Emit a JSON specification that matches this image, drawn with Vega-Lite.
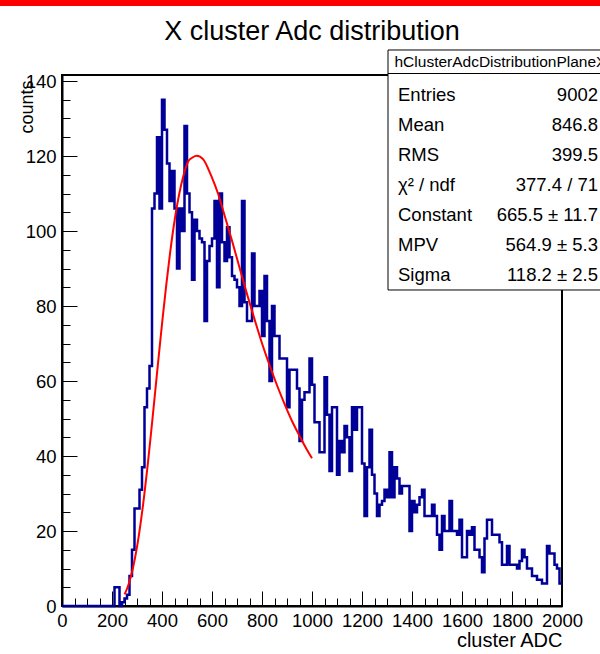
{
  "$schema": "https://vega.github.io/schema/vega-lite/v6.json",
  "width": 500,
  "height": 531,
  "autosize": {"type": "none"},
  "padding": {"left": 62, "top": 75, "right": 38, "bottom": 48},
  "background": "white",
  "config": {
    "font": "Liberation Sans",
    "view": {"stroke": "#000", "strokeWidth": 2},
    "axis": {"grid": false}
  },
  "datasets": {
    "hist": [
      {"adc": 0, "counts": 0}, {"adc": 10, "counts": 0}, {"adc": 20, "counts": 0}, {"adc": 30, "counts": 0},
      {"adc": 40, "counts": 0}, {"adc": 50, "counts": 0}, {"adc": 60, "counts": 0}, {"adc": 70, "counts": 0},
      {"adc": 80, "counts": 0}, {"adc": 90, "counts": 0}, {"adc": 100, "counts": 0}, {"adc": 110, "counts": 0},
      {"adc": 120, "counts": 0}, {"adc": 130, "counts": 0}, {"adc": 140, "counts": 0}, {"adc": 150, "counts": 0},
      {"adc": 160, "counts": 0}, {"adc": 170, "counts": 0}, {"adc": 180, "counts": 0}, {"adc": 190, "counts": 0},
      {"adc": 200, "counts": 0}, {"adc": 210, "counts": 5}, {"adc": 220, "counts": 5}, {"adc": 230, "counts": 0},
      {"adc": 240, "counts": 1}, {"adc": 250, "counts": 2}, {"adc": 260, "counts": 3}, {"adc": 270, "counts": 8},
      {"adc": 280, "counts": 15}, {"adc": 290, "counts": 26}, {"adc": 300, "counts": 26}, {"adc": 310, "counts": 31},
      {"adc": 320, "counts": 37}, {"adc": 330, "counts": 53}, {"adc": 340, "counts": 58}, {"adc": 350, "counts": 64},
      {"adc": 360, "counts": 106}, {"adc": 370, "counts": 110}, {"adc": 380, "counts": 125}, {"adc": 390, "counts": 106},
      {"adc": 400, "counts": 135}, {"adc": 410, "counts": 127}, {"adc": 420, "counts": 118}, {"adc": 430, "counts": 108},
      {"adc": 440, "counts": 116}, {"adc": 450, "counts": 106}, {"adc": 460, "counts": 90}, {"adc": 470, "counts": 106},
      {"adc": 480, "counts": 100}, {"adc": 490, "counts": 128}, {"adc": 500, "counts": 110}, {"adc": 510, "counts": 105},
      {"adc": 520, "counts": 87}, {"adc": 530, "counts": 103}, {"adc": 540, "counts": 100}, {"adc": 550, "counts": 98},
      {"adc": 560, "counts": 97}, {"adc": 570, "counts": 76}, {"adc": 580, "counts": 92}, {"adc": 590, "counts": 96},
      {"adc": 600, "counts": 98}, {"adc": 610, "counts": 108}, {"adc": 620, "counts": 85}, {"adc": 630, "counts": 110},
      {"adc": 640, "counts": 97}, {"adc": 650, "counts": 92}, {"adc": 660, "counts": 101}, {"adc": 670, "counts": 93},
      {"adc": 680, "counts": 88}, {"adc": 690, "counts": 87}, {"adc": 700, "counts": 85}, {"adc": 710, "counts": 80},
      {"adc": 720, "counts": 108}, {"adc": 730, "counts": 81}, {"adc": 740, "counts": 76}, {"adc": 750, "counts": 76},
      {"adc": 760, "counts": 94}, {"adc": 770, "counts": 80}, {"adc": 780, "counts": 80}, {"adc": 790, "counts": 84},
      {"adc": 800, "counts": 72}, {"adc": 810, "counts": 88}, {"adc": 820, "counts": 76}, {"adc": 830, "counts": 60},
      {"adc": 840, "counts": 80}, {"adc": 850, "counts": 72}, {"adc": 860, "counts": 72}, {"adc": 870, "counts": 66},
      {"adc": 880, "counts": 66}, {"adc": 890, "counts": 66}, {"adc": 900, "counts": 53}, {"adc": 910, "counts": 63},
      {"adc": 920, "counts": 63}, {"adc": 930, "counts": 63}, {"adc": 940, "counts": 58}, {"adc": 950, "counts": 44},
      {"adc": 960, "counts": 55}, {"adc": 970, "counts": 57}, {"adc": 980, "counts": 57}, {"adc": 990, "counts": 66},
      {"adc": 1000, "counts": 59}, {"adc": 1010, "counts": 49}, {"adc": 1020, "counts": 49}, {"adc": 1030, "counts": 41},
      {"adc": 1040, "counts": 41}, {"adc": 1050, "counts": 61}, {"adc": 1060, "counts": 51}, {"adc": 1070, "counts": 36},
      {"adc": 1080, "counts": 53}, {"adc": 1090, "counts": 53}, {"adc": 1100, "counts": 35}, {"adc": 1110, "counts": 44},
      {"adc": 1120, "counts": 41}, {"adc": 1130, "counts": 48}, {"adc": 1140, "counts": 45}, {"adc": 1150, "counts": 36},
      {"adc": 1160, "counts": 53}, {"adc": 1170, "counts": 47}, {"adc": 1180, "counts": 53}, {"adc": 1190, "counts": 53},
      {"adc": 1200, "counts": 38}, {"adc": 1210, "counts": 24}, {"adc": 1220, "counts": 37}, {"adc": 1230, "counts": 47},
      {"adc": 1240, "counts": 35}, {"adc": 1250, "counts": 30}, {"adc": 1260, "counts": 24}, {"adc": 1270, "counts": 27},
      {"adc": 1280, "counts": 28}, {"adc": 1290, "counts": 31}, {"adc": 1300, "counts": 29}, {"adc": 1310, "counts": 41},
      {"adc": 1320, "counts": 29}, {"adc": 1330, "counts": 37}, {"adc": 1340, "counts": 34}, {"adc": 1350, "counts": 30},
      {"adc": 1360, "counts": 32}, {"adc": 1370, "counts": 32}, {"adc": 1380, "counts": 32}, {"adc": 1390, "counts": 20},
      {"adc": 1400, "counts": 28}, {"adc": 1410, "counts": 25}, {"adc": 1420, "counts": 27}, {"adc": 1430, "counts": 29},
      {"adc": 1440, "counts": 31}, {"adc": 1450, "counts": 24}, {"adc": 1460, "counts": 24}, {"adc": 1470, "counts": 24},
      {"adc": 1480, "counts": 27}, {"adc": 1490, "counts": 24}, {"adc": 1500, "counts": 19}, {"adc": 1510, "counts": 15},
      {"adc": 1520, "counts": 24}, {"adc": 1530, "counts": 20}, {"adc": 1540, "counts": 20}, {"adc": 1550, "counts": 28},
      {"adc": 1560, "counts": 20}, {"adc": 1570, "counts": 20}, {"adc": 1580, "counts": 19}, {"adc": 1590, "counts": 23},
      {"adc": 1600, "counts": 13}, {"adc": 1610, "counts": 13}, {"adc": 1620, "counts": 20}, {"adc": 1630, "counts": 19},
      {"adc": 1640, "counts": 21}, {"adc": 1650, "counts": 15}, {"adc": 1660, "counts": 15}, {"adc": 1670, "counts": 13},
      {"adc": 1680, "counts": 9}, {"adc": 1690, "counts": 18}, {"adc": 1700, "counts": 23}, {"adc": 1710, "counts": 23},
      {"adc": 1720, "counts": 19}, {"adc": 1730, "counts": 19}, {"adc": 1740, "counts": 19}, {"adc": 1750, "counts": 17},
      {"adc": 1760, "counts": 11}, {"adc": 1770, "counts": 11}, {"adc": 1780, "counts": 16}, {"adc": 1790, "counts": 11},
      {"adc": 1800, "counts": 11}, {"adc": 1810, "counts": 11}, {"adc": 1820, "counts": 10}, {"adc": 1830, "counts": 12},
      {"adc": 1840, "counts": 15}, {"adc": 1850, "counts": 13}, {"adc": 1860, "counts": 10}, {"adc": 1870, "counts": 10},
      {"adc": 1880, "counts": 8}, {"adc": 1890, "counts": 8}, {"adc": 1900, "counts": 7}, {"adc": 1910, "counts": 7},
      {"adc": 1920, "counts": 6}, {"adc": 1930, "counts": 6}, {"adc": 1940, "counts": 16}, {"adc": 1950, "counts": 14},
      {"adc": 1960, "counts": 14}, {"adc": 1970, "counts": 11}, {"adc": 1980, "counts": 10}, {"adc": 1990, "counts": 6},
      {"adc": 2000, "counts": 6}
    ],
    "fit": [
      {"adc": 250, "fit": 3.1}, {"adc": 260, "fit": 4.6}, {"adc": 269.4, "fit": 6.4}, {"adc": 284, "fit": 10.2},
      {"adc": 298.9, "fit": 15.3}, {"adc": 328.5, "fit": 29.3}, {"adc": 343.3, "fit": 37.9}, {"adc": 358.1, "fit": 47.4},
      {"adc": 372.8, "fit": 57.2}, {"adc": 387.6, "fit": 67.1}, {"adc": 402.4, "fit": 76.7}, {"adc": 417.2, "fit": 85.7},
      {"adc": 431.9, "fit": 93.9}, {"adc": 446.7, "fit": 101.2}, {"adc": 461.5, "fit": 107.3}, {"adc": 476.3, "fit": 112.2},
      {"adc": 491, "fit": 116.0}, {"adc": 505.8, "fit": 118.7}, {"adc": 522, "fit": 119.6}, {"adc": 538.6, "fit": 120.1},
      {"adc": 564.9, "fit": 119.1}, {"adc": 594.5, "fit": 115.1}, {"adc": 624, "fit": 110.0}, {"adc": 653.6, "fit": 103.4},
      {"adc": 683.1, "fit": 96.7}, {"adc": 712.7, "fit": 89.6}, {"adc": 742.2, "fit": 82.7}, {"adc": 771.8, "fit": 76.1},
      {"adc": 801.3, "fit": 69.8}, {"adc": 830.9, "fit": 64.1}, {"adc": 860.4, "fit": 58.8}, {"adc": 890, "fit": 53.9},
      {"adc": 919.5, "fit": 49.4}, {"adc": 949.1, "fit": 45.5}, {"adc": 978.6, "fit": 41.8}, {"adc": 1000, "fit": 39.4}
    ],
    "stats": [
      {"stat": "Entries", "value": "9002"},
      {"stat": "Mean", "value": "846.8"},
      {"stat": "RMS", "value": "399.5"},
      {"stat": "χ² / ndf", "value": "377.4 / 71"},
      {"stat": "Constant", "value": "665.5 ± 11.7"},
      {"stat": "MPV", "value": "564.9 ± 5.3"},
      {"stat": "Sigma", "value": "118.2 ± 2.5"}
    ]
  },
  "layer": [
    {
      "layer": [
        {
          "data": {"name": "hist"},
          "mark": {"type": "line", "interpolate": "step-after", "color": "#000099", "strokeWidth": 2.5, "strokeCap": "butt"},
          "encoding": {
            "x": {
              "field": "adc", "type": "quantitative",
              "scale": {"domain": [0, 2000], "nice": false, "zero": false},
              "axis": {
                "orient": "bottom",
                "values": [0, 200, 400, 600, 800, 1000, 1200, 1400, 1600, 1800, 2000],
                "format": "d",
                "tickSize": -15, "tickWidth": 1, "tickColor": "#000",
                "domainColor": "#000", "domainWidth": 2,
                "labelFont": "Liberation Sans", "labelFontSize": 18.5, "labelColor": "#000",
                "labelPadding": 20, "labelFlush": false, "labelOverlap": false,
                "title": "cluster ADC", "titleFont": "Liberation Sans", "titleFontSize": 20,
                "titleFontWeight": "normal", "titleColor": "#000",
                "titleX": 500, "titleY": 40, "titleAlign": "right", "titleBaseline": "alphabetic"
              }
            },
            "y": {
              "field": "counts", "type": "quantitative",
              "scale": {"domain": [0, 141.6], "nice": false},
              "axis": {
                "orient": "left",
                "values": [0, 20, 40, 60, 80, 100, 120, 140],
                "format": "d",
                "tickSize": -15, "tickWidth": 1, "tickColor": "#000",
                "domainColor": "#000", "domainWidth": 2,
                "labelFont": "Liberation Sans", "labelFontSize": 18.5, "labelColor": "#000",
                "labelPadding": 21, "labelFlush": false, "labelOverlap": false,
                "title": "counts", "titleFont": "Liberation Sans", "titleFontSize": 18,
                "titleFontWeight": "normal", "titleColor": "#000",
                "titleAngle": -90, "titleX": -35, "titleY": 5,
                "titleAlign": "right", "titleBaseline": "middle"
              }
            }
          }
        },
        {
          "data": {"name": "fit"},
          "mark": {"type": "line", "interpolate": "monotone", "color": "#ff0000", "strokeWidth": 2},
          "encoding": {
            "x": {
              "field": "adc", "type": "quantitative",
              "axis": {
                "orient": "bottom",
                "values": [0, 50, 100, 150, 200, 250, 300, 350, 400, 450, 500, 550, 600, 650, 700, 750, 800, 850, 900, 950, 1000, 1050, 1100, 1150, 1200, 1250, 1300, 1350, 1400, 1450, 1500, 1550, 1600, 1650, 1700, 1750, 1800, 1850, 1900, 1950, 2000],
                "tickSize": -8, "tickWidth": 1, "tickColor": "#000",
                "labels": false, "domain": false, "title": null
              }
            },
            "y": {
              "field": "fit", "type": "quantitative",
              "axis": {
                "orient": "left",
                "values": [0, 5, 10, 15, 20, 25, 30, 35, 40, 45, 50, 55, 60, 65, 70, 75, 80, 85, 90, 95, 100, 105, 110, 115, 120, 125, 130, 135, 140],
                "tickSize": -8, "tickWidth": 1, "tickColor": "#000",
                "labels": false, "domain": false, "title": null
              }
            }
          }
        },
        {
          "data": {"values": [{}]},
          "mark": {"type": "rect", "color": "#ff0000", "clip": false},
          "encoding": {
            "x": {"datum": -248, "type": "quantitative", "axis": null},
            "x2": {"datum": 2152},
            "y": {"datum": 161.6, "type": "quantitative", "axis": null},
            "y2": {"datum": 160.0}
          }
        },
        {
          "data": {"values": [{"title": "X cluster Adc distribution"}]},
          "mark": {"type": "text", "align": "center", "baseline": "alphabetic", "font": "Liberation Sans", "fontSize": 27, "color": "#000", "clip": false},
          "encoding": {
            "x": {"datum": 1000, "type": "quantitative", "axis": null},
            "y": {"datum": 150.93, "type": "quantitative", "axis": null},
            "text": {"field": "title"}
          }
        },
        {
          "data": {"values": [{}]},
          "mark": {"type": "rect", "fill": "#ffffff", "stroke": "#000", "strokeWidth": 1, "clip": false},
          "encoding": {
            "x": {"datum": 1304, "type": "quantitative", "axis": null},
            "x2": {"datum": 2200},
            "y": {"datum": 148.27, "type": "quantitative", "axis": null},
            "y2": {"datum": 84.27}
          }
        },
        {
          "data": {"values": [{}]},
          "mark": {"type": "rule", "color": "#000", "strokeWidth": 1, "clip": false},
          "encoding": {
            "x": {"datum": 1304, "type": "quantitative", "axis": null},
            "x2": {"datum": 2200},
            "y": {"datum": 142.0, "type": "quantitative", "axis": null}
          }
        },
        {
          "data": {"values": [{"name": "hClusterAdcDistributionPlaneX"}]},
          "mark": {"type": "text", "align": "left", "baseline": "middle", "font": "Liberation Sans", "fontSize": 15.5, "color": "#000", "clip": false},
          "encoding": {
            "x": {"datum": 1330, "type": "quantitative", "axis": null},
            "y": {"datum": 145.15, "type": "quantitative", "axis": null},
            "text": {"field": "name"}
          }
        }
      ],
      "resolve": {"axis": {"x": "independent", "y": "independent"}}
    },
    {
      "data": {"name": "stats"},
      "mark": {"type": "text", "align": "left", "baseline": "middle", "font": "Liberation Sans", "fontSize": 18.5, "color": "#000"},
      "encoding": {
        "x": {"datum": 1344, "type": "quantitative", "axis": null},
        "y": {"field": "stat", "type": "ordinal", "sort": null, "scale": {"type": "point", "range": [20, 200], "padding": 0}, "axis": null},
        "text": {"field": "stat"}
      }
    },
    {
      "data": {"name": "stats"},
      "mark": {"type": "text", "align": "right", "baseline": "middle", "font": "Liberation Sans", "fontSize": 18.5, "color": "#000"},
      "encoding": {
        "x": {"datum": 2144, "type": "quantitative", "axis": null},
        "y": {"field": "stat", "type": "ordinal", "sort": null, "scale": {"type": "point", "range": [20, 200], "padding": 0}, "axis": null},
        "text": {"field": "value"}
      }
    }
  ],
  "resolve": {"scale": {"y": "independent"}}
}
